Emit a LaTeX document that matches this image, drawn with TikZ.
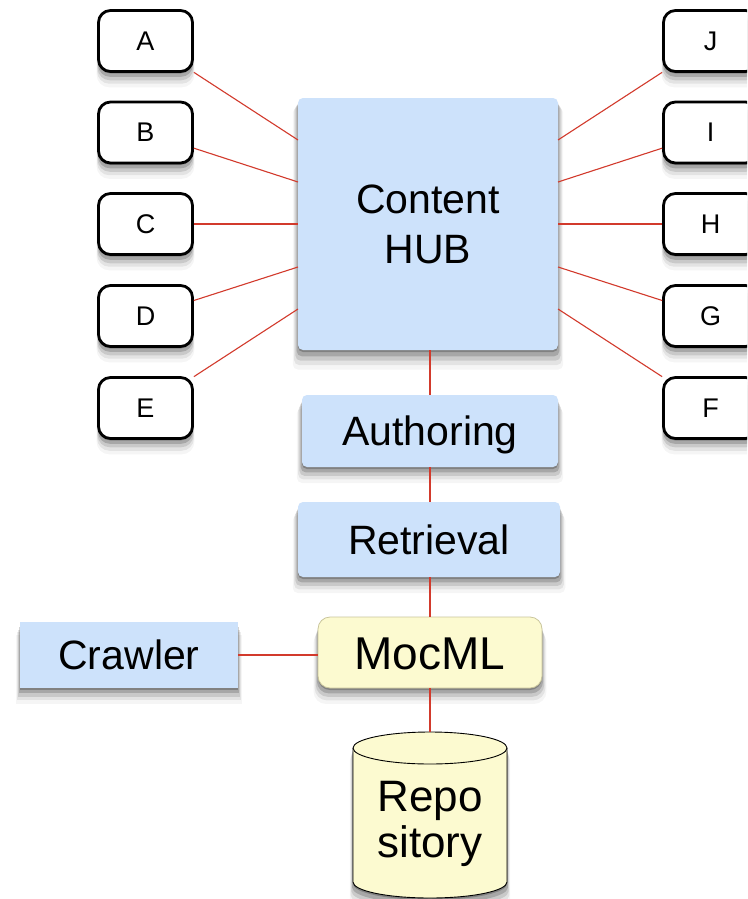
\documentclass[tikz,border=0pt]{standalone}
\usepackage{fontspec}
\setmainfont{Liberation Sans}
\usetikzlibrary{shadows,calc}
\definecolor{hubblue}{HTML}{CDE2FB}
\definecolor{mocyellow}{HTML}{FCFAD0}
\definecolor{mocborder}{HTML}{C9C59C}
\definecolor{linkred}{HTML}{D23A2C}
\begin{document}
\begin{tikzpicture}[x=1pt,y=1pt,
  softshadow/.style={
    drop shadow={shadow xshift=0pt,shadow yshift=-2pt,shadow scale=1.0,opacity=0.22,fill=black},
    drop shadow={shadow xshift=0pt,shadow yshift=-5pt,shadow scale=1.01,opacity=0.17,fill=black},
    drop shadow={shadow xshift=0pt,shadow yshift=-8pt,shadow scale=1.02,opacity=0.11,fill=black},
    drop shadow={shadow xshift=0pt,shadow yshift=-11pt,shadow scale=1.03,opacity=0.07,fill=black},
    drop shadow={shadow xshift=0pt,shadow yshift=-14pt,shadow scale=1.04,opacity=0.04,fill=black}},
  letterbox/.style={draw=black, line width=2.8pt, rounded corners=12pt, fill=white,
    minimum width=94pt, minimum height=61pt, inner sep=0pt,
    font=\fontsize{27}{32}\selectfont, softshadow},
  bluebox/.style={fill=hubblue, rounded corners=5pt, inner sep=0pt,
    font=\fontsize{41}{50}\selectfont, softshadow},
  onetext/.style={text height=29.5pt, text depth=0pt},
  link/.style={draw=linkred, line width=1.1pt}
]
\path[use as bounding box, clip] (0,0) rectangle (747,-899);
\fill[white] (0,0) rectangle (747,-899);

% central hub
\node[bluebox, minimum width=260pt, minimum height=252pt, align=center] (hub) at (428,-224) {Content\\HUB};

% connection points on hub
\foreach \i/\y in {1/140,2/182,3/224,4/267,5/309}{
  \coordinate (hl\i) at (298,-\y);
  \coordinate (hr\i) at (558,-\y);
}

% letter boxes
\node[letterbox] (A) at (145.5,-41) {A};
\node[letterbox] (B) at (145.5,-132.5) {B};
\node[letterbox] (C) at (145.5,-224) {C};
\node[letterbox] (D) at (145.5,-316) {D};
\node[letterbox] (E) at (145.5,-408) {E};
\node[letterbox] (J) at (710.5,-41) {J};
\node[letterbox] (I) at (710.5,-132.5) {I};
\node[letterbox] (H) at (710.5,-224) {H};
\node[letterbox] (G) at (710.5,-316) {G};
\node[letterbox] (F) at (710.5,-408) {F};

% stack
\node[bluebox, onetext, minimum width=256pt, minimum height=72pt] (auth) at (430,-431) {Authoring};
\node[bluebox, onetext, minimum width=262pt, minimum height=75pt] (retr) at (429,-539.5) {Retrieval};
\node[fill=mocyellow, draw=mocborder, line width=0.8pt, rounded corners=12pt, inner sep=0pt,
  minimum width=224pt, minimum height=71pt, font=\fontsize{46}{52}\selectfont,
  text height=33pt, text depth=0pt, softshadow] (moc) at (430,-652.5) {MocML};
\node[bluebox, rounded corners=0pt, onetext, minimum width=218pt, minimum height=66pt] (crawl) at (129,-655) {Crawler};

% repository cylinder
\draw[fill=mocyellow, line width=0.9pt, softshadow]
  (353,-748) -- (353,-882) arc[start angle=180, end angle=360, x radius=77pt, y radius=16pt]
  -- (507,-748) arc[start angle=0, end angle=180, x radius=77pt, y radius=16pt] -- cycle;
\draw[line width=0.9pt] (353,-748) arc[start angle=180, end angle=360, x radius=77pt, y radius=16pt];
\coordinate (repotop) at (430,-732);
\node[align=center, font=\fontsize{44}{46}\selectfont, inner sep=0pt] (repo) at (430,-824) {Repo\\sitory};

% connectors
\draw[link] (A) -- (hl1);
\draw[link] (B) -- (hl2);
\draw[link] (C) -- (hl3);
\draw[link] (D) -- (hl4);
\draw[link] (E) -- (hl5);
\draw[link] (J) -- (hr1);
\draw[link] (I) -- (hr2);
\draw[link] (H) -- (hr3);
\draw[link] (G) -- (hr4);
\draw[link] (F) -- (hr5);
\draw[link] (auth.north) -- (auth.north |- hub.south);
\draw[link] (retr.north -| auth.north) -- (auth.south);
\draw[link] (moc.north) -- (moc.north |- retr.south);
\draw[link] (crawl.east) -- (crawl.east -| moc.west);
\draw[link] (moc.south) -- (repotop);
\end{tikzpicture}
\end{document}
